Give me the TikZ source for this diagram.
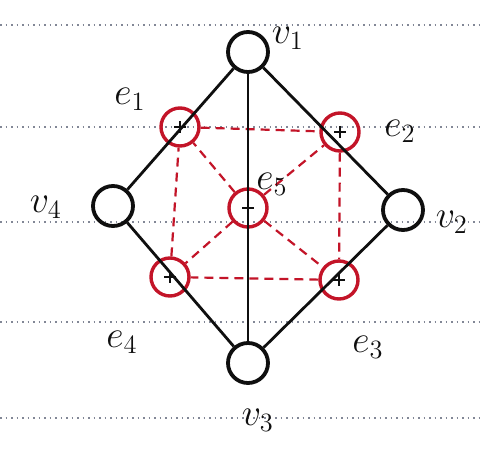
\documentclass[tikz,border=0pt]{standalone}
\usepackage{graphicx}
\usetikzlibrary{calc}
\definecolor{pen}{RGB}{15,15,15}
\definecolor{redpen}{RGB}{195,20,40}
\definecolor{ruled}{RGB}{130,135,150}
\newcommand{\hlab}[1]{\scalebox{2.2}{\LARGE$#1$}}
\begin{document}
\begin{tikzpicture}[x=1pt,y=-1pt,
  vert/.style={circle,draw=pen,line width=3.8pt,minimum size=40pt,inner sep=0pt},
  mid/.style={circle,draw=redpen,line width=3.4pt,minimum size=38pt,inner sep=0pt},
  edge/.style={draw=pen,line width=2.8pt},
  dual/.style={draw=redpen,line width=2.2pt,dash pattern=on 9pt off 6pt},
  rule/.style={draw=ruled,line width=1.3pt,dash pattern=on 1.5pt off 4pt},
  lab/.style={text=pen,inner sep=0pt}]
\useasboundingbox[fill=white] (0,0) rectangle (483,452);
% ruled lines
\foreach \yy/\nm in {25/a,127/b,222/c,322/d,418/e}{
  \coordinate (l\nm) at (0,\yy); \coordinate (r\nm) at (483,\yy);
  \draw[rule] (l\nm) -- (r\nm);}
% vertices
\node[vert] (v1) at (248,52) {};
\node[vert] (v2) at (403,210) {};
\node[vert] (v3) at (248,363) {};
\node[vert] (v4) at (113,206) {};
% edge midpoints
\node[mid] (e1) at (180,127) {};
\node[mid] (e2) at (340,132) {};
\node[mid] (e3) at (339,280) {};
\node[mid] (e4) at (170,277) {};
\node[mid] (e5) at (248,208) {};
% red dashed line graph
\draw[dual] (e1) -- (e2);
\draw[dual] (e2) -- (e3);
\draw[dual] (e3) -- (e4);
\draw[dual] (e4) -- (e1);
\draw[dual] (e5) -- (e1);
\draw[dual] (e5) -- (e2);
\draw[dual] (e5) -- (e3);
\draw[dual] (e5) -- (e4);
% black edges
\draw[edge] (v1) -- (v4);
\draw[edge] (v1) -- (v2);
\draw[edge] (v2) -- (v3);
\draw[edge] (v3) -- (v4);
\draw[edge] (v1) -- (v3);
% crosses in midpoints
\foreach \n in {e1,e2,e3,e4,e5}{
  \draw[pen,line width=2.4pt] ($( \n)+(-6,0)$) -- ($(\n)+(6,0)$);
  \draw[pen,line width=2.4pt] ($( \n)+(0,-6)$) -- ($(\n)+(0,6)$);}
% labels
\node[lab] (lv1) at (288,38) {\hlab{v_{1}}};
\node[lab] (lv2) at (452,222) {\hlab{v_{2}}};
\node[lab] (lv3) at (258,420) {\hlab{v_{3}}};
\node[lab] (lv4) at (46,207) {\hlab{v_{4}}};
\node[lab] (le1) at (130,99) {\hlab{e_{1}}};
\node[lab] (le2) at (400,131) {\hlab{e_{2}}};
\node[lab] (le3) at (368,347) {\hlab{e_{3}}};
\node[lab] (le4) at (122,342) {\hlab{e_{4}}};
\node[lab] (le5) at (272,184) {\hlab{e_{5}}};
\end{tikzpicture}
\end{document}
